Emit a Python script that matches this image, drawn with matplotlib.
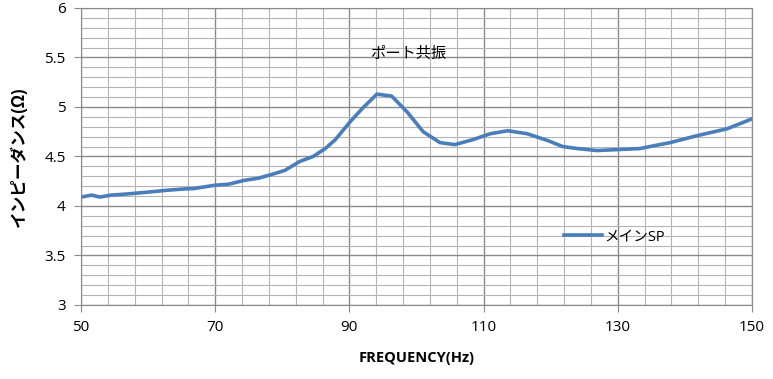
import numpy as np
import matplotlib.pyplot as plt

plt.rcParams['font.family'] = ['Open Sans', 'Noto Sans CJK JP', 'DejaVu Sans']

freq = [50, 51.6, 52.8, 54.5, 56.6, 60, 63, 66, 66.7, 70, 72, 74.4, 76.4, 78.5, 80.4,
        82.6, 84.6, 86.4, 87.9, 90.1, 92, 94.1, 96.3, 98.6, 101, 103.5, 105.7, 108.4,
        111, 113.6, 116.5, 119.6, 121.8, 124, 126.9, 130, 133.3, 135.5, 137.8, 141.8,
        146.3, 150]
impedance = [4.09, 4.11, 4.09, 4.11, 4.12, 4.14, 4.16, 4.175, 4.175, 4.21, 4.22, 4.26,
             4.28, 4.32, 4.36, 4.45, 4.50, 4.58, 4.67, 4.85, 4.99, 5.13, 5.11, 4.95,
             4.75, 4.64, 4.62, 4.67, 4.73, 4.76, 4.73, 4.66, 4.60, 4.58, 4.56, 4.57,
             4.58, 4.61, 4.64, 4.71, 4.78, 4.88]

x_ticks = [50, 70, 90, 110, 130, 150]
y_ticks = [3, 3.5, 4, 4.5, 5, 5.5, 6]
y_tick_labels = ['3', '3.5', '4', '4.5', '5', '5.5', '6']

fig = plt.figure(figsize=(7.73, 3.79), dpi=100)
ax = fig.add_axes([0.1048, 0.1953, 0.868, 0.7836])

ax.plot(freq, impedance, color='#4a7ebb', linewidth=2.6, label='メインSP')

ax.set_xlim(50, 150)
ax.set_ylim(3, 6)
ax.set_xticks(x_ticks)
ax.set_xticks(np.arange(50, 151, 4), minor=True)
ax.set_yticks(y_ticks)
ax.set_yticklabels(y_tick_labels)
ax.set_yticks(np.linspace(3, 6, 31), minor=True)

ax.grid(which='major', color='#8a8a8a', linewidth=1.0)
ax.grid(which='minor', color='#b4b4b4', linewidth=0.8)
ax.set_axisbelow(True)
ax.tick_params(which='major', length=5, color='#8a8a8a', labelsize=11, pad=6)
ax.tick_params(which='minor', length=0)
for s in ax.spines.values():
    s.set_color('#8a8a8a')

ax.set_xlabel('FREQUENCY(Hz)', fontsize=10.5, fontweight='bold', labelpad=11)
ax.set_ylabel('インピーダンス(Ω)', fontsize=12, fontweight='bold', labelpad=12)

ax.text(98.7, 5.53, 'ポート共振', fontsize=11, ha='center', va='center')

ax.legend(loc='center left', bbox_to_anchor=(0.7, 0.23), frameon=False,
          fontsize=10.5, handlelength=2.6, handletextpad=0.2)

fig.savefig('out.png', dpi=100)
